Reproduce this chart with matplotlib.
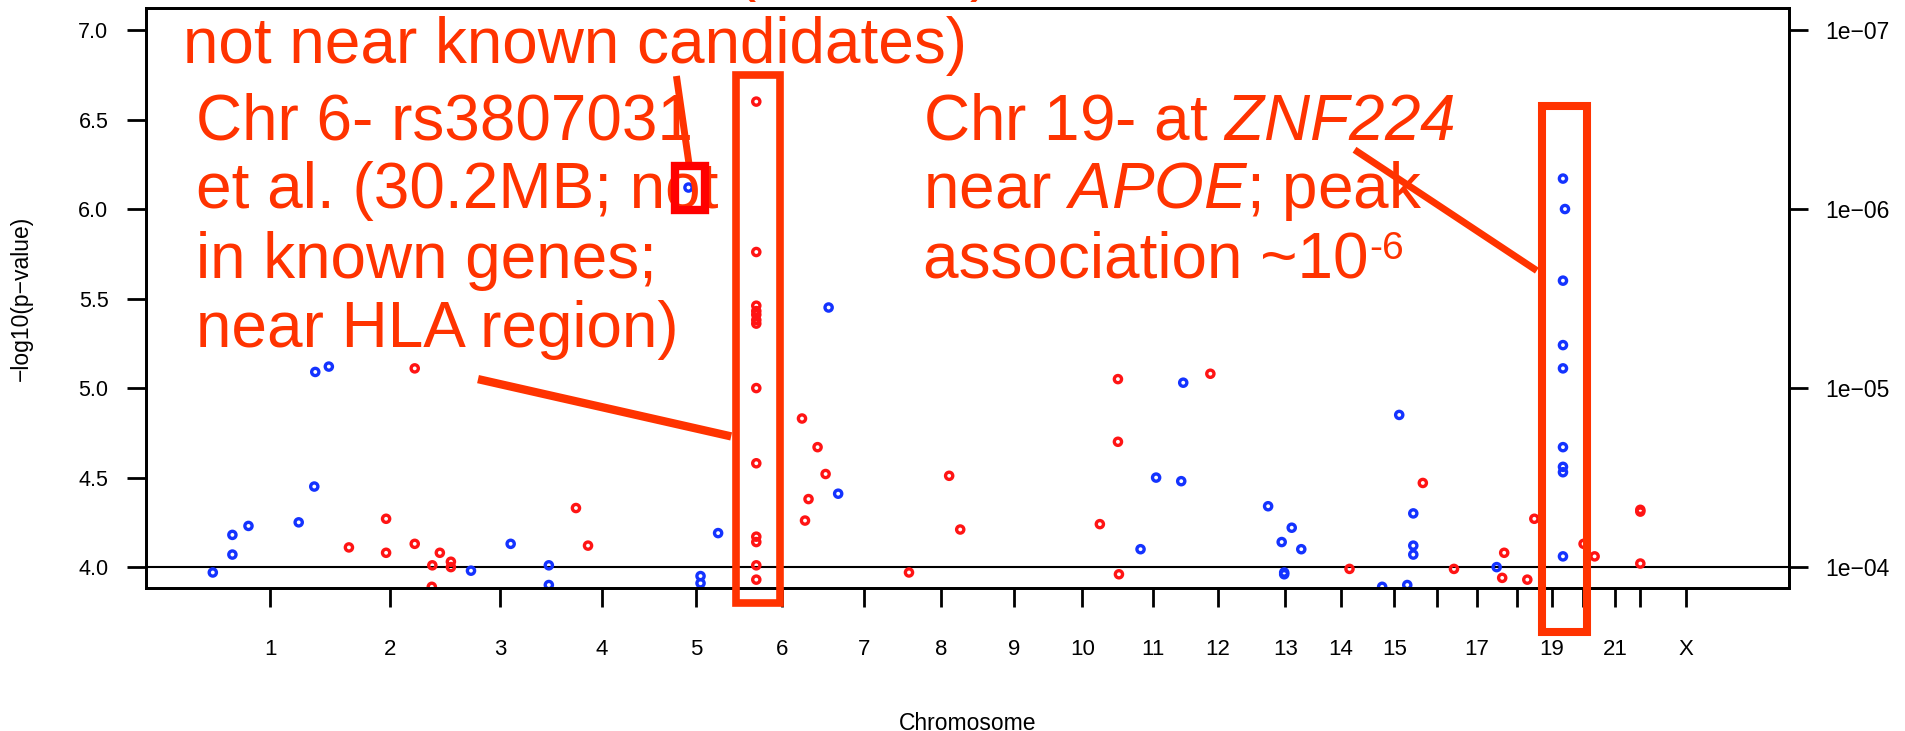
import matplotlib
matplotlib.use('Agg')
from matplotlib import pyplot as plt
from matplotlib.patches import Rectangle

plt.rcParams['font.family'] = ['Liberation Sans', 'DejaVu Sans']
plt.rcParams['mathtext.fontset'] = 'custom'
plt.rcParams['mathtext.rm'] = 'Liberation Sans'
plt.rcParams['mathtext.sf'] = 'Liberation Sans:italic'

# chromosome axis, cumulative genome position (Mb)
chrom_names = ['1', '2', '3', '4', '5', '6', '7', '8', '9', '10', '11', '12',
               '13', '14', '15', '16', '17', '18', '19', '20', '21', '22', 'X']
chrom_mid = [123, 362, 581, 784, 971, 1142, 1306, 1459, 1604, 1740, 1881, 2010,
             2144, 2255, 2361, 2446, 2526, 2606, 2675, 2737, 2801, 2850, 2942]
chrom_labels = ['1', '2', '3', '4', '5', '6', '7', '8', '9', '10', '11', '12',
                '13', '14', '15', '', '17', '', '19', '', '21', '', 'X']

# SNPs: chromosome, cumulative position, -log10(p)
snp_chr = [1, 1, 1, 1, 1, 1, 1, 1,
           2, 2, 2, 2, 2, 2, 2, 2, 2, 2,
           3, 3, 3, 3,
           4, 4,
           5, 5, 5, 5,
           6, 6, 6, 6, 6, 6, 6, 6, 6, 6, 6, 6, 6,
           6, 6, 6, 6, 6,
           7, 7,
           8, 8, 8,
           10, 10, 10, 10,
           11, 11, 11, 11,
           12,
           13, 13, 13, 13, 13, 13,
           14,
           15, 15, 15, 15, 15, 15,
           16, 16,
           17,
           18, 18, 18, 18,
           19, 19, 19, 19, 19, 19, 19, 19, 19,
           20, 20,
           22, 22, 22]
snp_pos = [9, 48, 48, 80, 180, 211, 213, 240,
           280, 354, 354, 411, 411, 446, 445, 461, 483, 483,
           523, 602, 678, 678,
           732, 756,
           956, 980, 980, 1015,
           1091, 1091, 1091, 1091, 1091, 1091, 1091, 1091, 1091, 1091, 1091, 1091, 1091,
           1182, 1188, 1195, 1213, 1229,
           1235, 1254,
           1395, 1475, 1497,
           1775, 1811, 1811, 1813,
           1856, 1887, 1937, 1941,
           1995,
           2110, 2137, 2142, 2142, 2157, 2176,
           2272,
           2337, 2371, 2387, 2399, 2399, 2399,
           2418, 2480,
           2565,
           2576, 2580, 2626, 2640,
           2697, 2701, 2697, 2697, 2697, 2697, 2697, 2697, 2697,
           2738, 2760,
           2851, 2851, 2851]
snp_logp = [3.97, 4.07, 4.18, 4.23, 4.25, 4.45, 5.09, 5.12,
            4.11, 4.27, 4.08, 5.11, 4.13, 4.01, 3.89, 4.08, 4.03, 4.00,
            3.98, 4.13, 4.01, 3.90,
            4.33, 4.12,
            6.12, 3.95, 3.91, 4.19,
            6.60, 5.76, 5.46, 5.43, 5.41, 5.38, 5.36, 5.00, 4.58, 4.17, 4.14, 4.01, 3.93,
            4.83, 4.26, 4.38, 4.67, 4.52,
            5.45, 4.41,
            3.97, 4.51, 4.21,
            4.24, 5.05, 4.70, 3.96,
            4.10, 4.50, 4.48, 5.03,
            5.08,
            4.34, 4.14, 3.97, 3.96, 4.22, 4.10,
            3.99,
            3.89, 4.85, 3.90, 4.30, 4.12, 4.07,
            4.47, 3.99,
            4.00,
            3.94, 4.08, 3.93, 4.27,
            6.17, 6.00, 5.60, 5.24, 5.11, 4.67, 4.56, 4.53, 4.06,
            4.13, 4.06,
            4.32, 4.31, 4.02]

right_ticks = [4, 5, 6, 7]
right_labels = ['1e\u221204', '1e\u221205', '1e\u221206', '1e\u221207']

W, H = 1906, 731
ANNOT = '#ff3300'

fig = plt.figure(figsize=(W / 100, H / 100), dpi=100)
ax = fig.add_axes([146 / W, 1 - 587.7 / H, (1789 - 146) / W, (587.7 - 8.5) / H])

colors = ['#1433ff' if c % 2 == 1 else '#ff1414' for c in snp_chr]
ax.scatter(snp_pos, snp_logp, s=27, facecolors='none', edgecolors=colors,
           linewidths=2.4, zorder=2)
ax.axhline(4.0, color='black', lw=1.5, zorder=1)

ax.set_xlim(-124, 3147)
ax.set_ylim(3.885, 7.12)
ax.set_xticks(chrom_mid)
ax.set_xticklabels(chrom_labels)
ax.set_yticks([4.0, 4.5, 5.0, 5.5, 6.0, 6.5, 7.0])
ax.set_yticklabels(['4.0', '4.5', '5.0', '5.5', '6.0', '6.5', '7.0'])
ax.tick_params(axis='x', length=14, width=2, pad=23, labelsize=16)
ax.tick_params(axis='y', length=14, width=2, pad=13, labelsize=15.5)
for sp in ax.spines.values():
    sp.set_linewidth(2)

ax2 = ax.twinx()
ax2.set_ylim(ax.get_ylim())
ax2.set_yticks(right_ticks)
ax2.set_yticklabels(right_labels)
ax2.tick_params(axis='y', length=14, width=2, pad=12, labelsize=16.5)
for sp in ax2.spines.values():
    sp.set_linewidth(2)

ax.set_xlabel('Chromosome', fontsize=16.5)
ax.xaxis.set_label_coords(0.5, -0.214)
ax.set_ylabel('\u2212log10(p\u2212value)', fontsize=16.5)
ax.yaxis.set_label_coords(-0.069, 0.5)

# highlight boxes and pointer lines
ax2.add_patch(Rectangle((1050, 3.80), 89, 2.946, fill=False, edgecolor=ANNOT,
                        lw=5.5, clip_on=False, zorder=4, joinstyle='miter'))
ax2.add_patch(Rectangle((2655, 3.635), 89, 2.943, fill=False, edgecolor=ANNOT,
                        lw=5.8, clip_on=False, zorder=4, joinstyle='miter'))
ax2.add_patch(Rectangle((930, 5.992), 59, 0.247, fill=False, edgecolor='#ff0000',
                        lw=6, clip_on=False, zorder=5, joinstyle='miter'))
ax2.plot([537, 1041], [5.05, 4.73], color=ANNOT, lw=6, clip_on=False,
         solid_capstyle='butt', zorder=4)
ax2.plot([932, 957], [6.743, 6.253], color=ANNOT, lw=5, clip_on=False,
         solid_capstyle='butt', zorder=4)
ax2.plot([2282, 2645], [6.331, 5.656], color=ANNOT, lw=5, clip_on=False,
         solid_capstyle='butt', zorder=4)


def label(x, y, s, size=46):
    return ax2.text(x / W, 1 - y / H, s, transform=fig.transFigure, fontsize=size,
                    color=ANNOT, ha='left', va='baseline', zorder=3, clip_on=False)


label(735, -11, '(')
label(970, -11, ')')
label(183, 63, 'not near known candidates)')
label(196, 140, 'Chr 6- rs3807031')
label(196, 208, 'et al. (30.2MB; not')
label(196, 278, 'in known genes;')
label(196, 347, 'near HLA region)')
label(923, 140, r'Chr 19- at $\mathsf{ZNF224}$')
label(923, 208, r'near $\mathsf{APOE}$; peak')
base = label(923, 278, 'association ~10')
bb = base.get_window_extent(renderer=fig.canvas.get_renderer())
label(bb.x1 + 1, 278 - 19, '-6', size=28)

fig.savefig('out.png', dpi=100)
